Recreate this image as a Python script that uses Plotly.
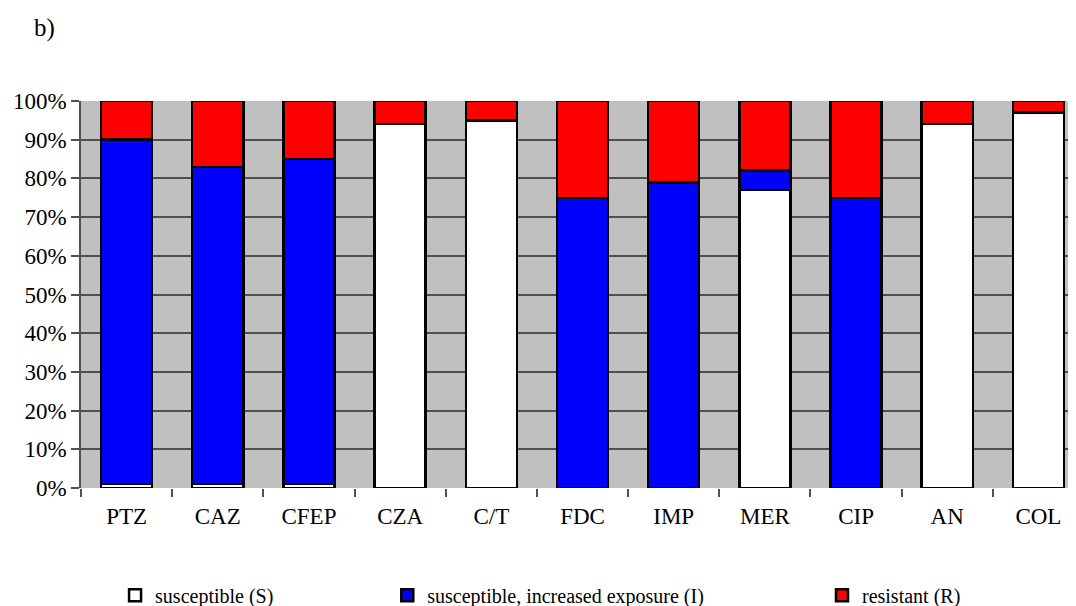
import plotly.graph_objects as go

categories = ['PTZ', 'CAZ', 'CFEP', 'CZA', 'C/T', 'FDC', 'IMP', 'MER', 'CIP', 'AN', 'COL']
susceptible = [1, 1, 1, 94, 95, 0, 0, 77, 0, 94, 97]
increased = [89, 82, 84, 0, 0, 75, 79, 5, 75, 0, 0]
resistant = [10, 17, 15, 6, 5, 25, 21, 18, 25, 6, 3]

series = [
    ('susceptible (S)', susceptible, '#FFFFFF', 'legend'),
    ('susceptible, increased exposure (I)', increased, '#0000FF', 'legend2'),
    ('resistant (R)', resistant, '#FF0000', 'legend3'),
]

fig = go.Figure()
for name, vals, color, leg in series:
    fig.add_trace(go.Bar(
        x=categories, y=vals, name=name, legend=leg, showlegend=True,
        marker=dict(color=color, line=dict(color='black', width=2.5)),
        width=0.56,
    ))

# page body has an 8px margin, so everything is placed 8px up/left
legend_style = dict(orientation='h', yanchor='middle', xanchor='left',
                    xref='container', yref='container', y=0.031,
                    font=dict(family='Liberation Serif', size=20, color='black'),
                    bgcolor='rgba(0,0,0,0)', itemwidth=30)

fig.update_layout(
    barmode='stack',
    width=1076, height=606,
    margin=dict(l=73, r=0, t=93, b=126, autoexpand=False),
    paper_bgcolor='white',
    plot_bgcolor='#C0C0C0',
    font=dict(family='Liberation Serif', size=23, color='black'),
    showlegend=True,
    legend=dict(legend_style, x=0.0995),
    legend2=dict(legend_style, x=0.3525),
    legend3=dict(legend_style, x=0.7565),
    annotations=[dict(text='b)', x=-0.036, y=1.189, xref='paper', yref='paper',
                      xanchor='center', yanchor='middle', showarrow=False,
                      font=dict(size=25, family='Liberation Serif'))],
)

fig.update_xaxes(
    range=[-0.5, 10.5], tickson='boundaries', ticks='outside', ticklen=8,
    tickcolor='#505050', tickwidth=1.5, showline=False, showgrid=False,
    tickfont=dict(size=23), ticklabelstandoff=12,
)
fig.update_yaxes(
    range=[0, 100], dtick=10, ticksuffix='%', ticks='outside', ticklen=8,
    tickcolor='#505050', tickwidth=1.5, showline=True, linecolor='#505050', linewidth=1.5,
    showgrid=True, gridcolor='#505050', gridwidth=2, zeroline=False,
    tickfont=dict(size=23),
)

fig.write_html('out.html')
